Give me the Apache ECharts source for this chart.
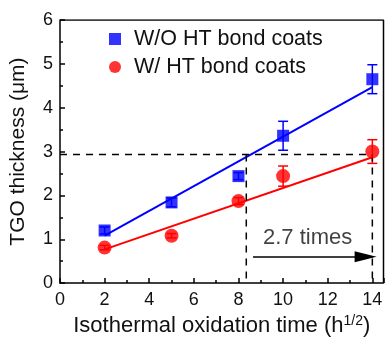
<!DOCTYPE html>
<html>
<head>
<meta charset="utf-8">
<script src="https://cdn.jsdelivr.net/npm/echarts@6/dist/echarts.min.js"></script>
<style>
  html, body { margin: 0; padding: 0; background: #fff; }
  #chart { width: 387px; height: 342px; }
</style>
</head>
<body>
<div id="chart"></div>
<script>
// oxidation time (h^1/2)
const times = [2, 5, 8, 10, 14];
// TGO thickness (um) and error
const woHT = [1.20, 1.84, 2.44, 3.36, 4.65];
const woHTErr = [0.08, 0.10, 0.08, 0.33, 0.33];
const wHT = [0.81, 1.08, 1.87, 2.44, 3.00];
const wHTErr = [0.05, 0.05, 0.08, 0.23, 0.27];
// linear fit end points
const woFit = [[2, 1.08], [14, 4.47]];
const wFit = [[2, 0.77], [14, 2.87]];
// guide lines
const guideY = 2.93;
const guideX = [8.35, 14];
const arrowFrom = [8.65, 0.6];
const arrowTo = [13.7, 0.6];
const noteText = '2.7 times';
const notePos = [11.1, 1.03];

const font = 'Liberation Sans, Arial, sans-serif';
const chart = echarts.init(document.getElementById('chart'));

function pairs(xs, ys) {
    return xs.map((x, i) => [x, ys[i]]);
}

function errBars(color, errs, ys) {
    return {
        type: 'custom',
        silent: true,
        z: 3,
        data: times.map((x, i) => [x, ys[i] - errs[i], ys[i] + errs[i]]),
        renderItem: (params, api) => {
            const lo = api.coord([api.value(0), api.value(1)]);
            const hi = api.coord([api.value(0), api.value(2)]);
            const w = 5;
            const st = { stroke: color, lineWidth: 1.5 };
            return {
                type: 'group',
                children: [
                    { type: 'line', shape: { x1: lo[0], y1: lo[1], x2: hi[0], y2: hi[1] }, style: st },
                    { type: 'line', shape: { x1: lo[0] - w, y1: lo[1], x2: lo[0] + w, y2: lo[1] }, style: st },
                    { type: 'line', shape: { x1: hi[0] - w, y1: hi[1], x2: hi[0] + w, y2: hi[1] }, style: st }
                ]
            };
        }
    };
}

const dashStyle = { color: '#000', width: 1.5, type: [7, 6] };

chart.setOption({
    animation: false,
    grid: { left: 60, right: 3.5, top: 20, bottom: 57 },
    legend: {
        orient: 'vertical',
        left: 104,
        top: 23,
        itemGap: 6,
        itemWidth: 12,
        itemHeight: 12,
        textStyle: {
            fontFamily: font, fontSize: 21.5, lineHeight: 22, color: '#111',
            padding: [0, 0, 0, 8]
        },
        data: [
            { name: 'W/O HT bond coats', icon: 'rect' },
            { name: 'W/ HT bond coats', icon: 'circle' }
        ]
    },
    xAxis: {
        type: 'value',
        min: 0,
        max: 14.5,
        interval: 2,
        name: '{a|Isothermal oxidation time (h}{s|1/2}{a|)}',
        nameLocation: 'middle',
        nameGap: 28,
        nameTextStyle: {
            rich: {
                a: { fontFamily: font, fontSize: 22, color: '#111' },
                s: { fontFamily: font, fontSize: 14, color: '#111', verticalAlign: 'top', padding: [0, 0, 10, 0] }
            }
        },
        axisLine: { lineStyle: { color: '#000', width: 1.5 } },
        axisTick: { inside: true, length: 5, lineStyle: { color: '#000', width: 1.5 } },
        minorTick: { show: true, splitNumber: 2, length: 3, lineStyle: { color: '#000', width: 1.5 } },
        axisLabel: {
            margin: 8,
            fontFamily: font, fontSize: 18, color: '#111',
            formatter: v => (v % 2 === 0 ? String(v) : '')
        },
        splitLine: { show: false }
    },
    yAxis: {
        type: 'value',
        min: 0,
        max: 6,
        interval: 1,
        name: 'TGO thickness (μm)',
        nameLocation: 'middle',
        nameGap: 31,
        nameTextStyle: { fontFamily: font, fontSize: 21, color: '#111' },
        axisLine: { lineStyle: { color: '#000', width: 1.5 } },
        axisTick: { inside: true, length: 5, lineStyle: { color: '#000', width: 1.5 } },
        minorTick: { show: true, splitNumber: 2, length: 3, lineStyle: { color: '#000', width: 1.5 } },
        axisLabel: { margin: 7, fontFamily: font, fontSize: 18, color: '#111' },
        splitLine: { show: false }
    },
    series: [
        // frame top / right
        {
            type: 'line', silent: true, symbol: 'none',
            data: [[0, 6], [14.5, 6], [14.5, 0]],
            lineStyle: { color: '#000', width: 1.5 }
        },
        // dashed guides
        {
            type: 'line', silent: true, symbol: 'none',
            data: [[0, guideY], [guideX[1], guideY]],
            lineStyle: dashStyle
        },
        {
            type: 'line', silent: true, symbol: 'none',
            data: [[guideX[0], guideY], [guideX[0], 0]],
            lineStyle: dashStyle
        },
        {
            type: 'line', silent: true, symbol: 'none',
            data: [[guideX[1], guideY], [guideX[1], 0]],
            lineStyle: dashStyle
        },
        // fits
        {
            type: 'line', silent: true, symbol: 'none', z: 2,
            data: woFit, lineStyle: { color: '#0000ff', width: 2 }
        },
        {
            type: 'line', silent: true, symbol: 'none', z: 2,
            data: wFit, lineStyle: { color: '#ff0000', width: 2 }
        },
        errBars('#0000ff', woHTErr, woHT),
        errBars('#ff0000', wHTErr, wHT),
        {
            name: 'W/O HT bond coats',
            type: 'scatter', symbol: 'rect', symbolSize: 12, z: 4,
            itemStyle: { color: '#0000ff' },
            data: pairs(times, woHT)
        },
        {
            name: 'W/ HT bond coats',
            type: 'scatter', symbol: 'circle', symbolSize: 14, z: 4,
            itemStyle: { color: '#ff0000' },
            data: pairs(times, wHT)
        },
        // arrow and note
        {
            type: 'scatter', silent: true, symbolSize: 0,
            data: [notePos],
            label: {
                show: true, position: 'inside', formatter: noteText,
                fontFamily: font, fontSize: 22, color: '#111'
            },
            markLine: {
                silent: true,
                symbol: ['none', 'triangle'],
                symbolSize: [11, 22],
                label: { show: false },
                lineStyle: { color: '#000', width: 1.5, type: 'solid' },
                data: [[{ coord: arrowFrom }, { coord: arrowTo }]]
            }
        }
    ]
});
</script>
</body>
</html>
